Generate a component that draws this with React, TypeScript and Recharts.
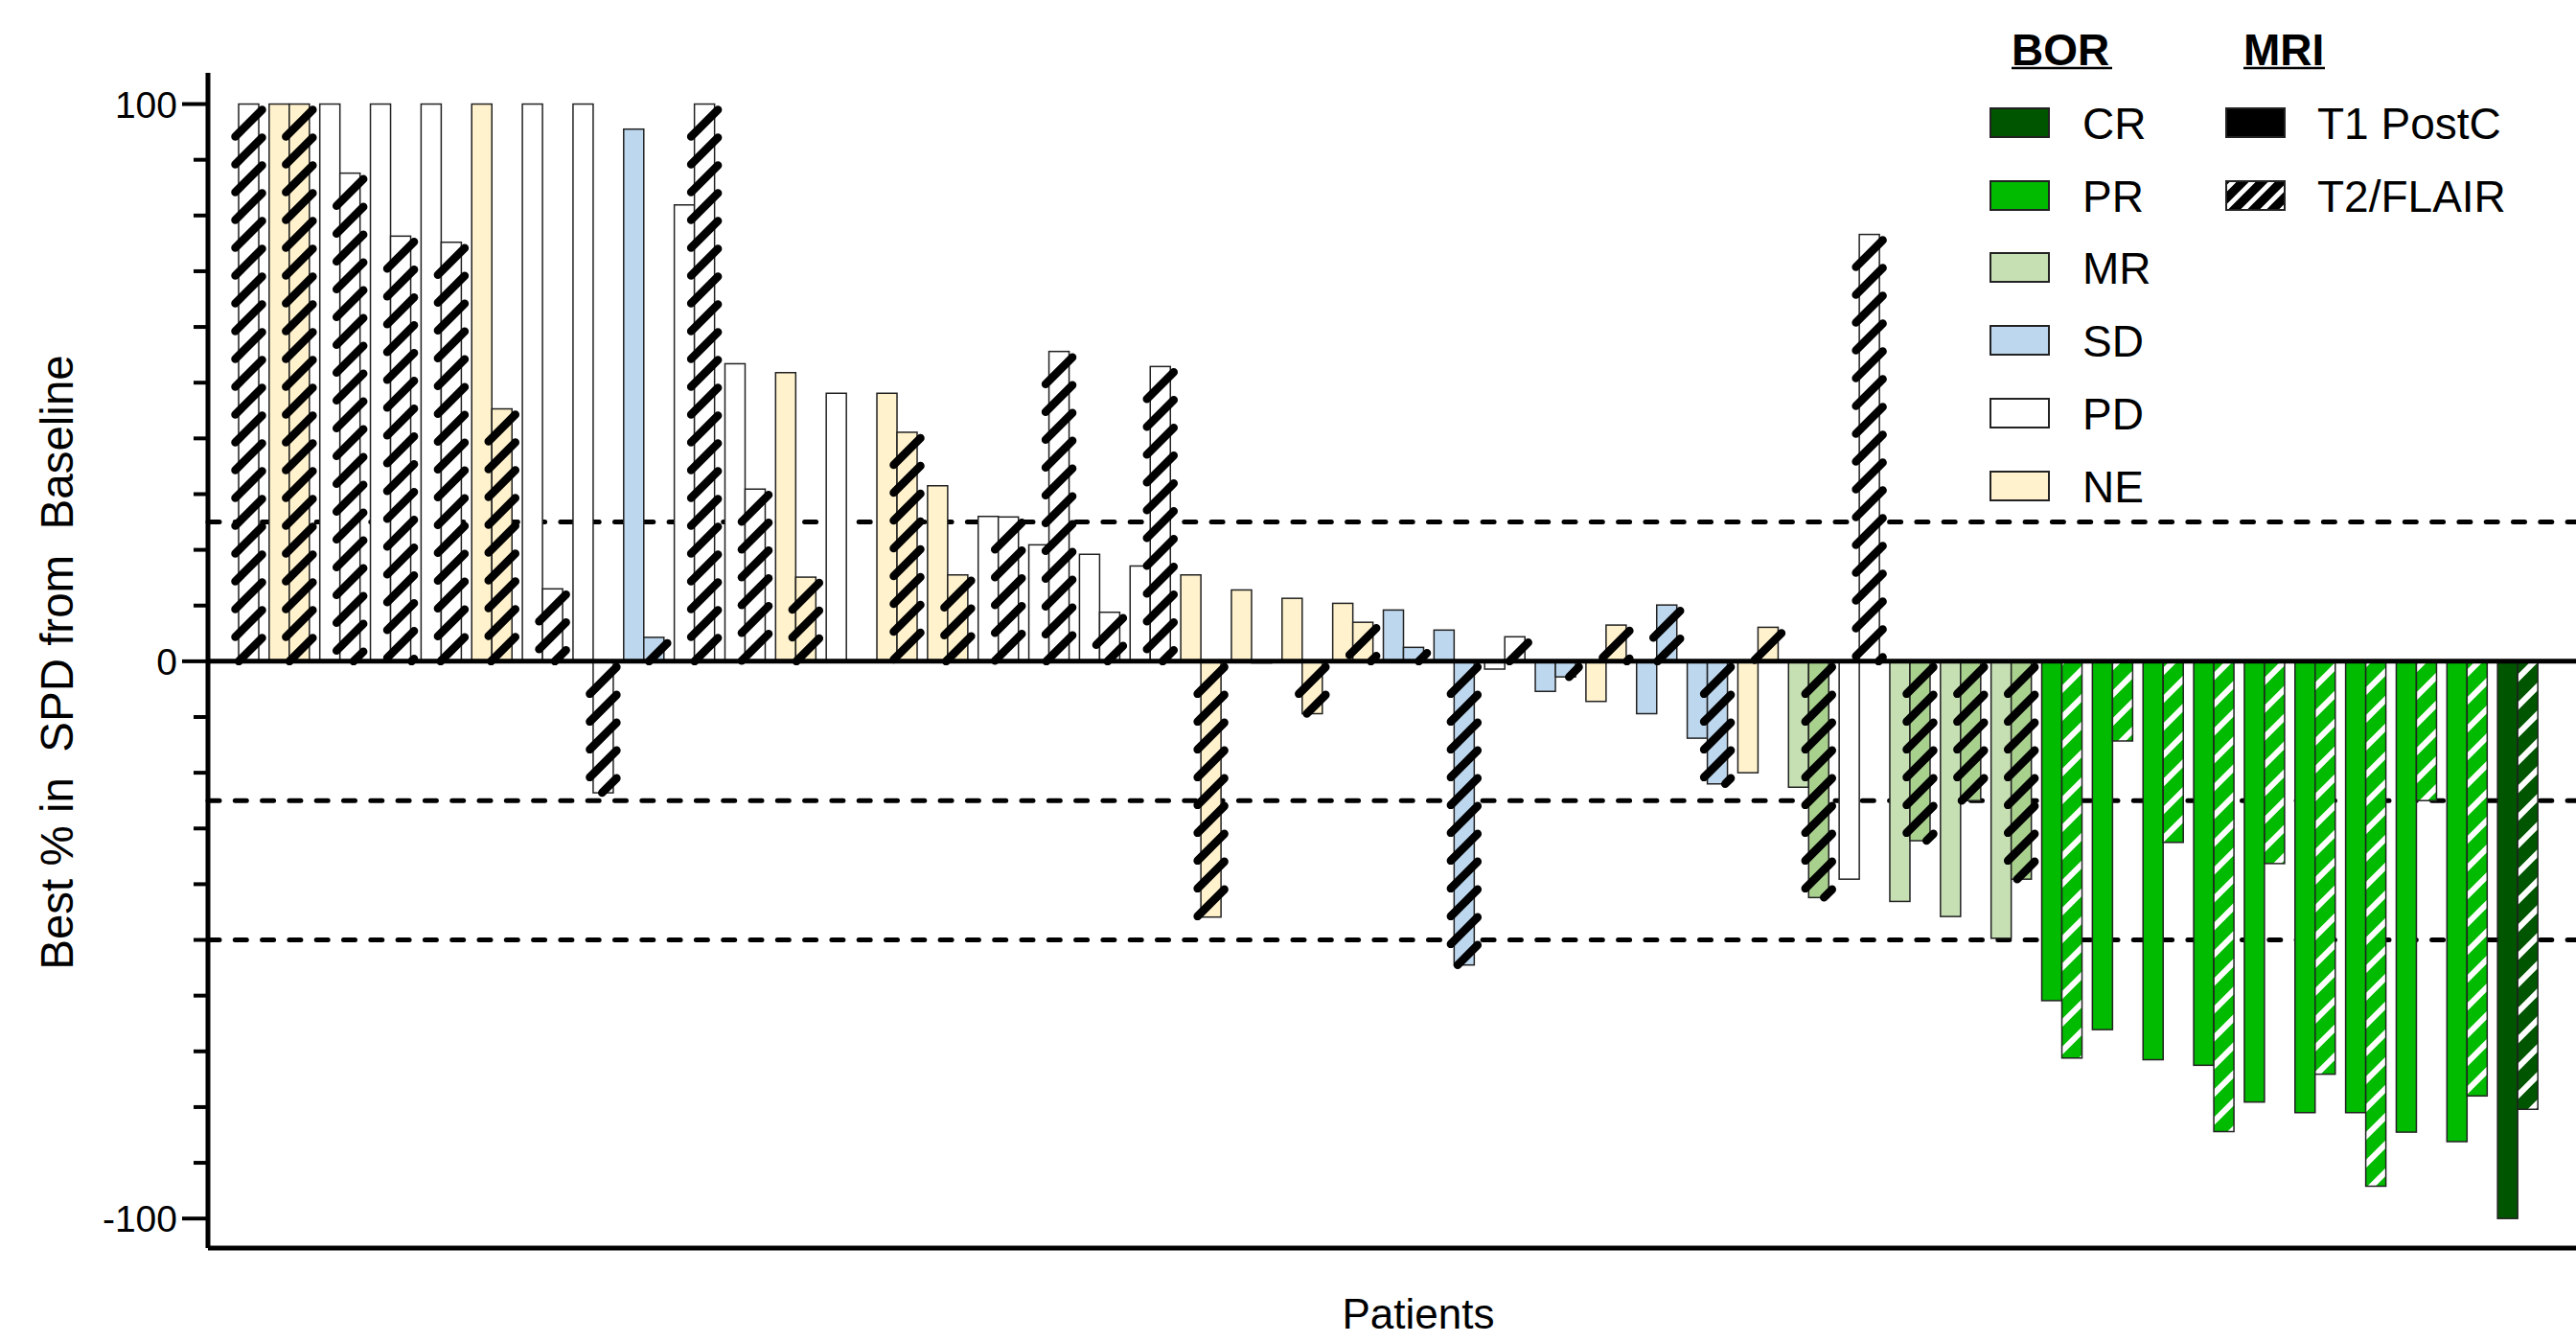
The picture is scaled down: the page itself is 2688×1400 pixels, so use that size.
import { BarChart, Bar, XAxis, YAxis, ReferenceLine, Label } from "recharts"

const FONT = "'Liberation Sans', Arial, sans-serif"
const AXIS_X = 217
const STEP = 29

// one entry per patient, sorted as in the waterfall
const patients = [
  "P1", "P2", "P3", "P4", "P5", "P6", "P7", "P8", "P9", "P10",
  "P11", "P12", "P13", "P14", "P15", "P16", "P17", "P18", "P19", "P20",
  "P21", "P22", "P23", "P24", "P25", "P26", "P27", "P28", "P29", "P30",
  "P31", "P32", "P33", "P34", "P35", "P36", "P37", "P38", "P39", "P40",
  "P41", "P42", "P43", "P44", "P45", "P46",
]

// best overall response
const bor = [
  "PD", "NE", "PD", "PD", "PD", "NE", "PD", "PD", "SD", "PD",
  "PD", "NE", "PD", "NE", "NE", "PD", "PD", "PD", "PD", "NE",
  "NE", "NE", "NE", "SD", "SD", "PD", "SD", "NE", "SD", "SD",
  "NE", "MR", "PD", "MR", "MR", "MR", "PR", "PR", "PR", "PR",
  "PR", "PR", "PR", "PR", "PR", "CR",
]

// T1 PostC best % change (null = not measured)
const t1Values = [
  null, 100, 100, 100, 100, 100, 100, 100, 95.5, 81.9,
  53.4, 51.8, 48.1, 48.1, 31.5, 26.0, 20.9, 19.2, 17.1, 15.5,
  12.8, 11.3, 10.4, 9.2, 5.6, -1.4, -5.4, -7.2, -9.4, -13.8,
  -20.0, -22.6, -39.1, -43.1, -45.8, -49.7, -60.9, -66.1, -71.5, -72.5,
  -79.1, -81.0, -81.0, -84.5, -86.2, -100,
]

// T2/FLAIR best % change
const t2Values = [
  100, 100, 87.6, 76.3, 75.2, 45.3, 13.0, -23.6, 4.3, 100,
  30.9, 15.1, null, 41.1, 15.5, 25.9, 55.6, 8.8, 52.9, -45.9,
  -0.3, -9.4, 7.0, 2.5, -54.5, 4.4, -2.8, 6.5, 10.1, -22.0,
  6.1, -42.4, 76.6, -32.2, -25.0, -39.1, -71.2, -14.3, -32.5, -84.4,
  -36.3, -74.1, -94.2, -25.0, -78.0, -80.4,
]

const yTicks = [100, 90, 80, 70, 60, 50, 40, 30, 20, 10, 0, -10, -20, -30, -40, -50, -60, -70, -80, -90, -100]
const majorTicks = [100, 0, -100]
const cutoffs = [25, -25, -50]

const borOrder = ["CR", "PR", "MR", "SD", "PD", "NE"]

const SOLID: Record<string, string> = {
  CR: "#005500", PR: "#00bb00", MR: "#c6e0b4", SD: "#bdd7ee", PD: "#ffffff", NE: "#fff2cc",
}
const HATCH: Record<string, string> = { ...SOLID, MR: "#a9d18e" }

const rows = patients.map((id, i) => ({ id, bor: bor[i], t1: t1Values[i], t2: t2Values[i] }))

function box(y: number, height: number) {
  const top = height < 0 ? y + height : y
  return { top, h: Math.abs(height) }
}

const SolidBar = (props: any) => {
  const { x, y, width, height, payload } = props
  if (payload.t1 == null || !width) return <g />
  const { top, h } = box(y, height)
  return <rect x={x} y={top} width={width} height={h} fill={SOLID[payload.bor]} stroke="#222" strokeWidth={1.5} />
}

const HatchBar = (props: any) => {
  const { x, y, width, height, payload } = props
  if (payload.t2 == null || !width) return <g />
  const { top, h } = box(y, height)
  const dark = payload.bor === "PR" || payload.bor === "CR"
  if (dark) {
    return (
      <g>
        <rect x={x} y={top} width={width} height={h} fill={HATCH[payload.bor]} />
        <rect x={x} y={top} width={width} height={h} fill="url(#whiteHatch)" stroke="#222" strokeWidth={1.5} />
      </g>
    )
  }
  const e = 3.5
  const run = width + 2 * e
  const bottom = top + h
  const lines = []
  for (let yk = top + 6 + run; yk - run < bottom; yk += STEP) {
    let ax = x - e
    let ay = yk
    const bx = x + width + e
    const by = yk - run
    if (ay > bottom) {
      ax += ay - bottom
      ay = bottom
    }
    if (bx - ax < 2) continue
    lines.push(<line key={yk} x1={ax} y1={ay} x2={bx} y2={by} stroke="#000" strokeWidth={8.5} strokeLinecap="round" />)
  }
  return (
    <g>
      <rect x={x} y={top} width={width} height={h} fill={HATCH[payload.bor]} stroke="#222" strokeWidth={1.5} />
      {lines}
    </g>
  )
}

const YTick = (props: any) => {
  const { y, payload } = props
  const major = majorTicks.includes(payload.value)
  return (
    <g>
      <line x1={AXIS_X - (major ? 27 : 15)} x2={AXIS_X} y1={y} y2={y} stroke="#000" strokeWidth={4} />
      {major && (
        <text x={AXIS_X - 32} y={y} dy="0.36em" textAnchor="end" fontSize={39} fontFamily={FONT} fill="#000">
          {payload.value}
        </text>
      )}
    </g>
  )
}

function Legend() {
  const rowY = [128, 204, 279, 355, 431, 507]
  return (
    <svg width={2688} height={1400} style={{ position: "absolute", left: 0, top: 0, pointerEvents: "none" }}>
      <defs>
        <pattern id="legendHatch" patternUnits="userSpaceOnUse" width={20} height={20}>
          <path d="M0,20 L20,0 M-3,3 L3,-3 M17,23 L23,17" stroke="#fff" strokeWidth={5} />
        </pattern>
      </defs>
      <g fontFamily={FONT} fill="#000">
        <text x={2099} y={68} fontSize={46} fontWeight={700}>BOR</text>
        <line x1={2099} x2={2204} y1={71} y2={71} stroke="#000" strokeWidth={2.5} />
        <text x={2341} y={68} fontSize={46} fontWeight={700}>MRI</text>
        <line x1={2341} x2={2426} y1={71} y2={71} stroke="#000" strokeWidth={2.5} />
        {borOrder.map((c, i) => (
          <g key={c}>
            <rect x={2077} y={rowY[i] - 15} width={61} height={30} fill={SOLID[c]} stroke="#222" strokeWidth={2} />
            <text x={2173} y={rowY[i] + 16.5} fontSize={46}>{c}</text>
          </g>
        ))}
        <rect x={2323} y={rowY[0] - 15} width={61} height={30} fill="#000" stroke="#222" strokeWidth={2} />
        <text x={2418} y={rowY[0] + 16.5} fontSize={46}>T1 PostC</text>
        <rect x={2323} y={rowY[1] - 15} width={61} height={30} fill="#000" />
        <rect x={2323} y={rowY[1] - 15} width={61} height={30} fill="url(#legendHatch)" stroke="#222" strokeWidth={2} />
        <text x={2418} y={rowY[1] + 16.5} fontSize={46}>T2/FLAIR</text>
      </g>
    </svg>
  )
}

export default function App() {
  return (
    <div style={{ position: "absolute", left: 0, top: 0, width: 2688, height: 1400, background: "#fff" }}>
      <BarChart
        width={2688}
        height={1400}
        data={rows}
        margin={{ top: 76, right: 0, bottom: 68, left: 0 }}
        barGap={0}
        barSize={21}
      >
        <defs>
          <pattern id="whiteHatch" patternUnits="userSpaceOnUse" width={29} height={29}>
            <path d="M0,29 L29,0 M-3,3 L3,-3 M26,32 L32,26" stroke="#fff" strokeWidth={6} />
          </pattern>
        </defs>
        {cutoffs.map((v) => (
          <ReferenceLine
            key={v}
            y={v}
            stroke="#000"
            strokeWidth={5}
            strokeDasharray="12 16.3"
            strokeLinecap="round"
            zIndex={-10}
          />
        ))}
        <XAxis
          dataKey="id"
          tick={false}
          tickLine={false}
          axisLine={{ stroke: "#000", strokeWidth: 5 }}
          height={30}
          padding={{ left: 6, right: 34 }}
        >
          <Label
            content={() => (
              <text x={1480} y={1386} textAnchor="middle" fontSize={44} fontFamily={FONT} fill="#000">
                Patients
              </text>
            )}
          />
        </XAxis>
        <YAxis
          type="number"
          width={AXIS_X}
          domain={[-105.3, 105.6]}
          ticks={yTicks}
          interval={0}
          tick={<YTick />}
          tickLine={false}
          tickSize={0}
          tickMargin={0}
          allowDataOverflow
          axisLine={{ stroke: "#000", strokeWidth: 5 }}
        >
          <Label
            content={() => (
              <text
                x={76}
                y={691}
                transform="rotate(-90, 76, 691)"
                textAnchor="middle"
                fontSize={47.5}
                fontFamily={FONT}
                fill="#000"
                style={{ whiteSpace: "pre" }}
              >
                {"Best % in  SPD from  Baseline"}
              </text>
            )}
          />
        </YAxis>
        <Bar dataKey="t1" shape={SolidBar} isAnimationActive={false} />
        <Bar dataKey="t2" shape={HatchBar} isAnimationActive={false} />
        <ReferenceLine y={0} stroke="#000" strokeWidth={5} />
      </BarChart>
      <Legend />
    </div>
  )
}
